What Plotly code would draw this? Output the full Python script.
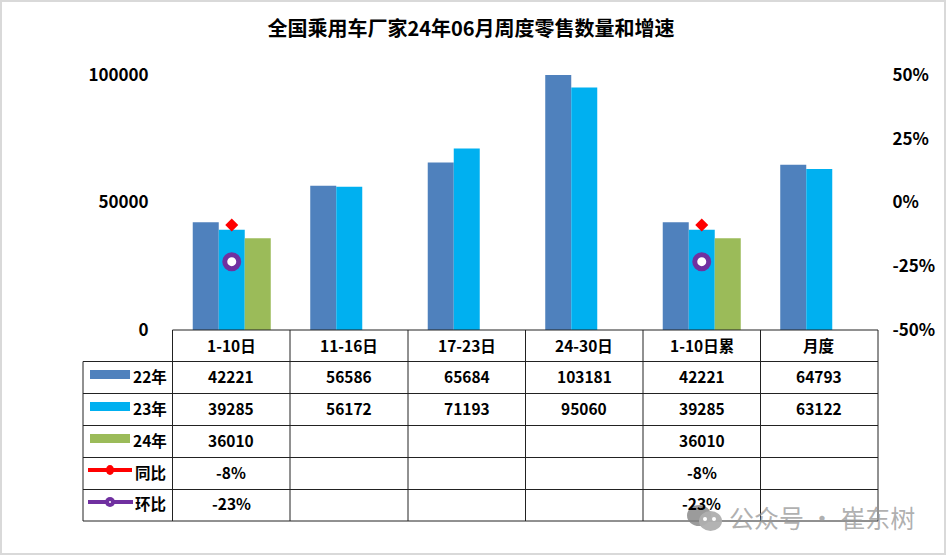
import plotly.graph_objects as go

W, H = 946, 556
FONT = "Noto Sans CJK SC"

categories = ["1-10日", "11-16日", "17-23日", "24-30日", "1-10日累", "月度"]
y22 = [42221, 56586, 65684, 103181, 42221, 64793]
y23 = [39285, 56172, 71193, 95060, 39285, 63122]
y24 = [36010, None, None, None, 36010, None]
tongbi = [-0.088, None, None, None, -0.088, None]
huanbi = [-0.232, None, None, None, -0.232, None]
row_names = ["22年", "23年", "24年", "同比", "环比"]
tongbi_text = ["-8%", "", "", "", "-8%", ""]
huanbi_text = ["-23%", "", "", "", "-23%", ""]
left_ticks = [0, 50000, 100000]
right_ticks = [-0.5, -0.25, 0, 0.25, 0.5]
right_labels = ["-50%", "-25%", "0%", "25%", "50%"]

BLUE, CYAN, GREEN = "#4F81BD", "#00B0F0", "#9BBB59"
RED, PURPLE = "#FF0000", "#7030A0"

# 绘图区的像素位置
L, R, T, B = 173, 878, 75, 330

# 表格线的位置(像素)
col_x = [83, 172.5, 290, 408, 525.5, 643, 760.5, 878]
row_y = [330, 361.5, 393.5, 425.5, 457.5, 489.5, 521]


def px(x):
    return (x - L) / (R - L)


def py(y):
    return (B - y) / (B - T)


fig = go.Figure()
fig.add_trace(go.Bar(x=categories, y=y22, marker=dict(color=BLUE, line_width=0), name="22年"))
fig.add_trace(go.Bar(x=categories, y=y23, marker=dict(color=CYAN, line_width=0), name="23年"))
fig.add_trace(go.Bar(x=categories, y=y24, marker=dict(color=GREEN, line_width=0), name="24年"))
fig.add_trace(go.Scatter(x=categories, y=tongbi, yaxis="y2", mode="markers", name="同比",
                         marker=dict(symbol="diamond", size=10, color=RED)))
fig.add_trace(go.Scatter(x=categories, y=huanbi, yaxis="y2", mode="markers", name="环比",
                         marker=dict(symbol="circle", size=14, color="white",
                                     line=dict(color=PURPLE, width=5))))

shapes = []
annotations = []


def line(x0, y0, x1, y1, color="#222222", width=1):
    shapes.append(dict(type="line", xref="paper", yref="paper", x0=px(x0), y0=py(y0),
                       x1=px(x1), y1=py(y1), line=dict(color=color, width=width)))


def text(x, y, s, size=15.5, color="black", bold=True):
    annotations.append(dict(xref="paper", yref="paper", x=px(x), y=py(y), text=f"<b>{s}</b>" if bold else s,
                            showarrow=False, xanchor="center", yanchor="middle",
                            font=dict(family=FONT, size=size, color=color)))


def dot(x0, y0, x1, y1, fill):
    shapes.append(dict(type="circle", xref="paper", yref="paper", x0=px(x0), x1=px(x1), y0=py(y0), y1=py(y1),
                       fillcolor=fill, line=dict(width=0)))


# 外框
shapes.append(dict(type="rect", xref="paper", yref="paper", x0=px(1), y0=py(1), x1=px(W - 1), y1=py(H - 2),
                   line=dict(color="#D9D9D9", width=2)))

# 表格线
for i, x in enumerate(col_x):
    line(x, row_y[1] if i == 0 else row_y[0], x, row_y[-1])
for j, y in enumerate(row_y):
    line(col_x[1] if j == 0 else col_x[0], y, col_x[-1], y)

# 表格文字
rows = [y22, y23, y24, tongbi_text, huanbi_text]
for i, c in enumerate(categories):
    cx = (col_x[i + 1] + col_x[i + 2]) / 2
    text(cx, 344.5, c)
    for j, r in enumerate(rows):
        v = r[i]
        if v not in (None, ""):
            text(cx, (row_y[j + 1] + row_y[j + 2]) / 2 - 2, v)

# 图例
for j, name in enumerate(row_names):
    cy = (row_y[j + 1] + row_y[j + 2]) / 2
    text(150, cy - 2, name)
for j, color in enumerate([BLUE, CYAN, GREEN]):
    cy = (row_y[j + 1] + row_y[j + 2]) / 2 - 3
    shapes.append(dict(type="rect", xref="paper", yref="paper", x0=px(90), x1=px(130), y0=py(cy - 4.5), y1=py(cy + 4.5),
                       line=dict(width=0), fillcolor=color))
line(88, 470, 132, 470, RED, 4)
dot(106, 465, 114, 475, RED)
line(88, 502, 133, 502, PURPLE, 4)
dot(105, 497, 115, 507, PURPLE)
dot(109, 501, 111, 503, "white")

# 水印
annotations.append(dict(xref="paper", yref="paper", x=px(727), y=py(517), text="公众号 · 崔东树", showarrow=False,
                        xanchor="left", yanchor="middle", font=dict(family=FONT, size=25, color="rgba(150,150,150,0.75)")))
dot(687, 505, 711, 526, "rgba(130,130,130,0.8)")
dot(699, 511, 722, 531, "rgba(175,175,175,0.95)")
dot(703, 517, 707, 521, "white")
dot(712, 517, 716, 521, "white")

fig.update_layout(
    width=W, height=H, autosize=False,
    margin=dict(l=L, r=W - R, t=T, b=H - B),
    paper_bgcolor="white", plot_bgcolor="white",
    showlegend=False,
    barmode="group", bargap=0.336, bargroupgap=0,
    title=dict(text="<b>全国乘用车厂家24年06月周度零售数量和增速</b>", x=471 / W, xanchor="center", y=1 - 29 / H, yanchor="middle",
               font=dict(family=FONT, size=20, color="black")),
    xaxis=dict(showticklabels=False, ticks="", showgrid=False, zeroline=False, showline=False),
    yaxis=dict(range=[0, 100000], tickvals=left_ticks, tickformat="d", showgrid=False, zeroline=False, showline=False,
               ticks="outside", ticklen=20, tickcolor="rgba(0,0,0,0)",
               tickfont=dict(family=FONT, size=17, color="black", weight="bold")),
    yaxis2=dict(range=[-0.5, 0.5], overlaying="y", side="right", tickvals=right_ticks, ticktext=right_labels,
                showgrid=False, zeroline=False, showline=False,
                ticks="outside", ticklen=10, tickcolor="rgba(0,0,0,0)",
                tickfont=dict(family=FONT, size=17, color="black", weight="bold")),
    shapes=shapes,
    annotations=annotations,
)

fig.write_html("out.html", config={"responsive": False, "displayModeBar": False},
               post_script="document.body.style.margin='0';")
